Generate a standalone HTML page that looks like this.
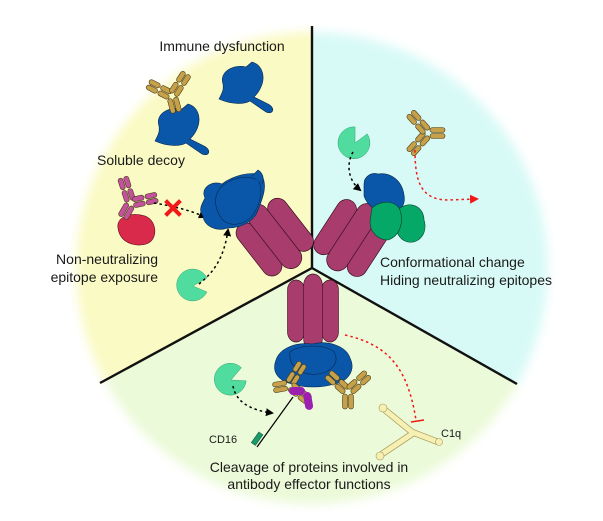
<!DOCTYPE html>
<html><head><meta charset="utf-8"><style>
html,body{margin:0;padding:0;background:#fff;}
svg{display:block;}
text{font-family:"Liberation Sans",Arial,sans-serif;fill:#1a1a1a;}
</style></head><body>
<svg width="603" height="521" viewBox="0 0 603 521" xmlns="http://www.w3.org/2000/svg">
<defs>
<filter id="bl" x="-20%" y="-20%" width="140%" height="140%"><feGaussianBlur stdDeviation="5"/></filter>
<mask id="m"><circle cx="312" cy="268" r="236" fill="#fff" filter="url(#bl)"/></mask>
<marker id="ak" markerWidth="8" markerHeight="8" refX="6" refY="4" orient="auto" markerUnits="userSpaceOnUse"><path d="M0,0 L8,4 L0,8 Z" fill="#000"/></marker>
<marker id="ar" markerWidth="9" markerHeight="9" refX="6" refY="4.5" orient="auto" markerUnits="userSpaceOnUse"><path d="M0,0 L9,4.5 L0,9 Z" fill="#f01818"/></marker>
<g id="ab" stroke="#4a3c14" stroke-width="0.6">
 <rect x="-5.5" y="2" width="5" height="15" rx="2.5"/>
 <rect x="0.5" y="2" width="5" height="15" rx="2.5"/>
 <g transform="rotate(-48)"><rect x="-5.5" y="-27" width="5" height="12" rx="2.5"/><rect x="-5.5" y="-14" width="5" height="12" rx="2.5"/><rect x="0.5" y="-27" width="5" height="12" rx="2.5"/><rect x="0.5" y="-14" width="5" height="12" rx="2.5"/></g>
 <g transform="rotate(48)"><rect x="-5.5" y="-27" width="5" height="12" rx="2.5"/><rect x="-5.5" y="-14" width="5" height="12" rx="2.5"/><rect x="0.5" y="-27" width="5" height="12" rx="2.5"/><rect x="0.5" y="-14" width="5" height="12" rx="2.5"/></g>
</g>
<g id="tri" fill="#a83c6c" stroke="#3a1020" stroke-width="0.7">
 <rect x="-30" y="6" width="20" height="62" rx="10"/>
 <rect x="10" y="6" width="20" height="62" rx="10"/>
 <rect x="-11" y="-2" width="22" height="76" rx="11"/>
</g>
<path id="dec" d="M223,84 C219,72 233,64 246,67 L252,62 C263,65 266,78 260,89 C258,93 256,95 254,97 L268,104 C276,108 273,115 266,112 L250,101 C243,105 230,104 219,99 C222,93 224,90 223,84 Z" fill="#0a56a8" stroke="#06294f" stroke-width="0.6"/>
<path id="pac" d="M0,0 L14,6 A16,16 0 1 1 14,-8 Z" fill="#4fdc9e" stroke="#2a9a6a" stroke-width="0.4"/>
</defs>

<g mask="url(#m)">
 <polygon points="312,268 312,0 0,0 0,437" fill="#fafac4"/>
 <polygon points="312,268 312,0 603,0 603,433" fill="#d8faf6"/>
 <polygon points="312,268 0,437 0,521 603,521 603,433" fill="#ebfad8"/>
</g>
<g stroke="#111" stroke-width="2.4" fill="none">
 <line x1="312" y1="26" x2="312" y2="268"/>
 <line x1="312" y1="268" x2="100" y2="383"/>
 <line x1="312" y1="268" x2="517" y2="384"/>
</g>

<text x="222" y="51" font-size="14" text-anchor="middle">Immune dysfunction</text>
<use href="#dec"/>
<use href="#dec" transform="translate(-64,42)"/>
<use href="#ab" fill="#c6a14a" transform="translate(172,96) rotate(-15) scale(1)"/>
<text x="97" y="165" font-size="14">Soluble decoy</text>

<path d="M118,228 C116,216 132,212 145,216 C156,220 158,236 150,242 C142,248 120,246 118,228 Z" fill="#d92a4c" stroke="#5a0c1a" stroke-width="0.6"/>
<use href="#ab" fill="#c2529c" transform="translate(131,203) rotate(30) scale(1)"/>
<path d="M154,203 C172,206 190,210 205,217" fill="none" stroke="#000" stroke-width="1.5" stroke-dasharray="2.5 3" marker-end="url(#ak)"/>
<g stroke="#f01818" stroke-width="4" stroke-linecap="square"><line x1="167" y1="202" x2="179" y2="214"/><line x1="179" y1="202" x2="167" y2="214"/></g>

<use href="#tri" transform="translate(252,208) rotate(-38)"/>
<g fill="#0a56a8" stroke="#06294f" stroke-width="0.6">
 <path d="M205,198 C200,188 212,180 222,184 C232,176 252,170 262,176 C268,186 262,200 258,210 C254,222 240,228 228,228 C216,232 204,226 203,216 C198,210 202,204 205,198 Z"/>
 <path d="M220,188 C230,178 246,174 258,180 C264,190 260,206 252,216 C244,226 226,228 220,216 C214,206 214,196 220,188 Z" fill="none"/>
 <path d="M252,176 L258,170 C264,174 264,180 262,184" />
</g>
<use href="#pac" transform="translate(193,286) rotate(0)"/>
<path d="M199,284 C214,272 224,258 228,230" fill="none" stroke="#000" stroke-width="1.5" stroke-dasharray="2.5 3" marker-end="url(#ak)"/>
<text x="158" y="264" font-size="14" text-anchor="end">Non-neutralizing</text>
<text x="158" y="282" font-size="14" text-anchor="end">epitope exposure</text>

<use href="#pac" transform="translate(355,143) rotate(-60)"/>
<path d="M353,152 C346,164 348,180 360,190" fill="none" stroke="#000" stroke-width="1.5" stroke-dasharray="2.5 3" marker-end="url(#ak)"/>
<use href="#ab" fill="#c6a14a" transform="translate(428,133) rotate(-90) scale(1)"/>
<path d="M415,150 C415,180 420,200 448,200 L476,199" fill="none" stroke="#f01818" stroke-width="1.5" stroke-dasharray="2.5 3" marker-end="url(#ar)"/>
<use href="#tri" transform="translate(372,207) rotate(33)"/>
<path d="M364,184 C364,176 372,172 378,174 C390,172 402,180 404,195 C406,205 400,210 396,212 C386,214 370,212 364,196 Z" fill="#0a56a8" stroke="#06294f" stroke-width="0.6"/>
<g fill="#06a868" stroke="#03402a" stroke-width="0.6">
 <path d="M400,208 C412,200 424,208 424,220 C428,232 420,244 408,242 C398,240 394,228 396,220 Z"/>
 <path d="M372,208 C380,200 396,200 400,210 C404,222 400,236 388,240 C378,240 370,232 370,222 Z"/>
</g>
<text x="380" y="267" font-size="14">Conformational change</text>
<text x="380" y="285" font-size="14">Hiding neutralizing epitopes</text>

<use href="#tri" transform="translate(313,348) rotate(180) scale(0.85,1)"/>
<g fill="#0a56a8" stroke="#06294f" stroke-width="0.6">
 <path d="M276,360 C280,348 296,342 312,344 C328,340 346,346 350,358 C356,370 348,382 334,384 C322,388 304,388 292,384 C276,380 272,370 276,360 Z"/>
 <path d="M290,352 C300,344 326,344 334,352 C340,362 332,372 318,374 C304,376 288,368 290,352 Z" fill="none"/>
</g>
<use href="#ab" fill="#c6a14a" transform="translate(348,392) rotate(0) scale(1)"/>
<use href="#ab" fill="#c6a14a" transform="translate(289,385) rotate(80) scale(0.95)"/>
<g fill="#9c20b0"><rect x="289" y="387" width="16" height="8" rx="4"/><rect x="304" y="392" width="8" height="18" rx="4" transform="rotate(-10 308 400)"/></g>
<line x1="293" y1="397" x2="257" y2="447" stroke="#000" stroke-width="1.2"/>
<rect x="255" y="432" width="5" height="13" fill="#1a9a6a" stroke="#0b4a30" stroke-width="0.5" transform="rotate(35 257 438)"/>
<text x="209" y="443" font-size="11">CD16</text>
<use href="#pac" transform="translate(231,380) rotate(-20)"/>
<path d="M233,386 C236,402 250,410 272,413" fill="none" stroke="#000" stroke-width="1.5" stroke-dasharray="2.5 3" marker-end="url(#ak)"/>
<path d="M345,335 C390,345 408,370 416,420" fill="none" stroke="#f01818" stroke-width="1.5" stroke-dasharray="2.5 3"/>
<line x1="411" y1="422" x2="424" y2="420" stroke="#f01818" stroke-width="1.5"/>
<g stroke-linecap="round" fill="none">
 <g stroke="#a8985a" stroke-width="6.5"><path d="M385,410 L412,432 L438,442"/><path d="M382,454 L412,434"/></g>
 <g stroke="#f6f0b4" stroke-width="5"><path d="M385,410 L412,432 L438,442"/><path d="M382,454 L412,434"/></g>
 <g fill="#f6f0b4" stroke="#a8985a" stroke-width="0.6"><circle cx="383" cy="408" r="4"/><circle cx="380" cy="456" r="4"/><circle cx="439" cy="442" r="3.5"/></g>
</g>
<text x="441" y="437" font-size="11">C1q</text>
<text x="309" y="472" font-size="14" text-anchor="middle">Cleavage of proteins involved in</text>
<text x="309" y="489" font-size="14" text-anchor="middle">antibody effector functions</text>
</svg>
</body></html>
